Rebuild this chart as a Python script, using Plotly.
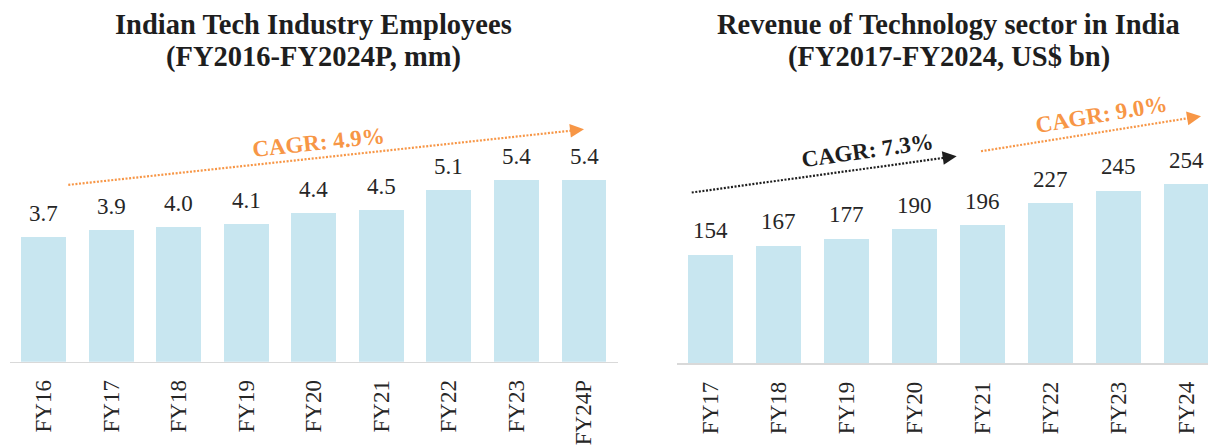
import math
import plotly.graph_objects as go

# ---------------- data ----------------
emp_categories = ["FY16", "FY17", "FY18", "FY19", "FY20", "FY21", "FY22", "FY23", "FY24P"]
emp_values = [3.7, 3.9, 4.0, 4.1, 4.4, 4.5, 5.1, 5.4, 5.4]

rev_categories = ["FY17", "FY18", "FY19", "FY20", "FY21", "FY22", "FY23", "FY24"]
rev_values = [154, 167, 177, 190, 196, 227, 245, 254]

emp_title = ["Indian Tech Industry Employees", "(FY2016-FY2024P, mm)"]
rev_title = ["Revenue of Technology sector in India", "(FY2017-FY2024, US$ bn)"]

cagr_emp = "CAGR: 4.9%"
cagr_rev_1 = "CAGR: 7.3%"
cagr_rev_2 = "CAGR: 9.0%"

# ---------------- style / layout ----------------
W, H = 1208, 445
BAR = "#C8E6F0"
ORANGE = "#F79646"
DARK = "#1E1E1E"
TXT = "#262626"
SERIF = "Liberation Serif, Times New Roman, serif"

# plot areas in pixels
L_X0, L_X1 = 9.7, 617.8
L_Y0, L_Y1 = 368.3, 90.5
L_YR = (0, 8.1)
R_X0, R_X1 = 676.5, 1208.0
R_Y0, R_Y1 = 370.0, 90.0
R_YR = (0, 390)
L_XR = (-0.5, len(emp_categories) - 0.5)
R_XR = (-0.5, -0.5 + (R_X1 - R_X0) / 68.0)


def to_px(ax, i, v):
    if ax == "L":
        x = L_X0 + (i - L_XR[0]) / (L_XR[1] - L_XR[0]) * (L_X1 - L_X0)
        y = L_Y0 - (v - L_YR[0]) / (L_YR[1] - L_YR[0]) * (L_Y0 - L_Y1)
    else:
        x = R_X0 + (i - R_XR[0]) / (R_XR[1] - R_XR[0]) * (R_X1 - R_X0)
        y = R_Y0 - (v - R_YR[0]) / (R_YR[1] - R_YR[0]) * (R_Y0 - R_Y1)
    return x, y


def paper(x, y):
    return x / W, 1 - y / H


fig = go.Figure()
fig.add_trace(go.Bar(x=list(range(len(emp_values))), y=emp_values, width=0.665,
                     marker=dict(color=BAR, line=dict(width=0)),
                     xaxis="x", yaxis="y", hoverinfo="skip"))
fig.add_trace(go.Bar(x=list(range(len(rev_values))), y=rev_values, width=0.665,
                     marker=dict(color=BAR, line=dict(width=0)),
                     xaxis="x2", yaxis="y2", hoverinfo="skip"))

annotations = []
for i, v in enumerate(emp_values):
    annotations.append(dict(x=i, y=v, xref="x", yref="y", text=f"{v:.1f}", showarrow=False,
                            yanchor="middle", yshift=23.5,
                            font=dict(family=SERIF, size=23, color=TXT)))
for i, v in enumerate(rev_values):
    annotations.append(dict(x=i, y=v, xref="x2", yref="y2", text=f"{v}", showarrow=False,
                            yanchor="middle", yshift=24,
                            font=dict(family=SERIF, size=23, color=TXT)))

# titles
for cx, lines in ((313.5, emp_title), (948.5, rev_title)):
    for k, (line, cy) in enumerate(zip(lines, (25.0, 58.0))):
        px_, py_ = paper(cx, cy)
        annotations.append(dict(x=px_, y=py_, xref="paper", yref="paper", text=f"<b>{line}</b>",
                                showarrow=False, xanchor="center", yanchor="middle",
                                font=dict(family=SERIF, size=28.5, color=DARK)))

# CAGR arrows: (axis, start(i, v), tip(i, v), colour)
arrows = [
    ("L", (0.367, 5.25), (8.0, 6.90), ORANGE),
    ("R", (-0.276, 242.3), (3.62, 293.9), DARK),
    ("R", (3.978, 300.8), (7.213, 350.6), ORANGE),
]
# CAGR labels: (axis, centre(i, v), text, colour, angle)
cagr_labels = [
    ("L", (4.07, 6.51), cagr_emp, ORANGE, -6),
    ("R", (2.316, 302.2), cagr_rev_1, DARK, -8),
    ("R", (5.75, 352.4), cagr_rev_2, ORANGE, -9.5),
]

shapes = []
HEAD_L, HEAD_W = 14.0, 7.0
for ax, s, t, col in arrows:
    sx, sy = to_px(ax, *s)
    tx, ty = to_px(ax, *t)
    d = math.hypot(tx - sx, ty - sy)
    ux, uy = (tx - sx) / d, (ty - sy) / d
    bx, by = tx - ux * HEAD_L, ty - uy * HEAD_L
    nx, ny = -uy, ux
    p0 = paper(sx, sy)
    p1 = paper(bx + ux * 1.0, by + uy * 1.0)
    shapes.append(dict(type="line", xref="paper", yref="paper", x0=p0[0], y0=p0[1], x1=p1[0], y1=p1[1],
                       line=dict(color=col, width=2.2, dash="2px,1.6px")))
    a = paper(tx, ty)
    b = paper(bx + nx * HEAD_W, by + ny * HEAD_W)
    c = paper(bx - nx * HEAD_W, by - ny * HEAD_W)
    path = f"M {a[0]} {a[1]} L {b[0]} {b[1]} L {c[0]} {c[1]} Z"
    shapes.append(dict(type="path", xref="paper", yref="paper", path=path,
                       fillcolor=col, line=dict(color=col, width=0)))

for ax, (ci, cv), text, col, ang in cagr_labels:
    x, y = to_px(ax, ci, cv)
    px_, py_ = paper(x, y)
    annotations.append(dict(x=px_, y=py_, xref="paper", yref="paper", text=f"<b>{text}</b>",
                            showarrow=False, xanchor="center", yanchor="middle", textangle=ang,
                            font=dict(family=SERIF, size=23, color=col)))

axis_common = dict(showgrid=False, zeroline=False, showline=True, linecolor="#D9D9D9", linewidth=1.2,
                   ticks="", tickangle=-90, tickfont=dict(family=SERIF, size=23, color=TXT),
                   ticklabelstandoff=8, fixedrange=True)

fig.update_layout(
    width=W, height=H, autosize=False,
    margin=dict(l=0, r=0, t=0, b=0, pad=0),
    paper_bgcolor="white", plot_bgcolor="white",
    showlegend=False, bargap=0,
    xaxis=dict(domain=[L_X0 / W, L_X1 / W], range=list(L_XR), anchor="y",
               tickmode="array", tickvals=list(range(len(emp_categories))), ticktext=emp_categories,
               **axis_common),
    yaxis=dict(domain=[1 - L_Y0 / H, 1 - L_Y1 / H], range=list(L_YR), anchor="x", visible=False),
    xaxis2=dict(domain=[R_X0 / W, R_X1 / W], range=list(R_XR), anchor="y2",
                tickmode="array", tickvals=list(range(len(rev_categories))), ticktext=rev_categories,
                **axis_common),
    yaxis2=dict(domain=[1 - R_Y0 / H, 1 - R_Y1 / H], range=list(R_YR), anchor="x2", visible=False),
    annotations=annotations,
    shapes=shapes,
)

fig.write_html(
    "out.html",
    config={"displayModeBar": False, "staticPlot": True},
    post_script="document.body.style.margin='0';document.body.style.overflow='hidden';",
)
